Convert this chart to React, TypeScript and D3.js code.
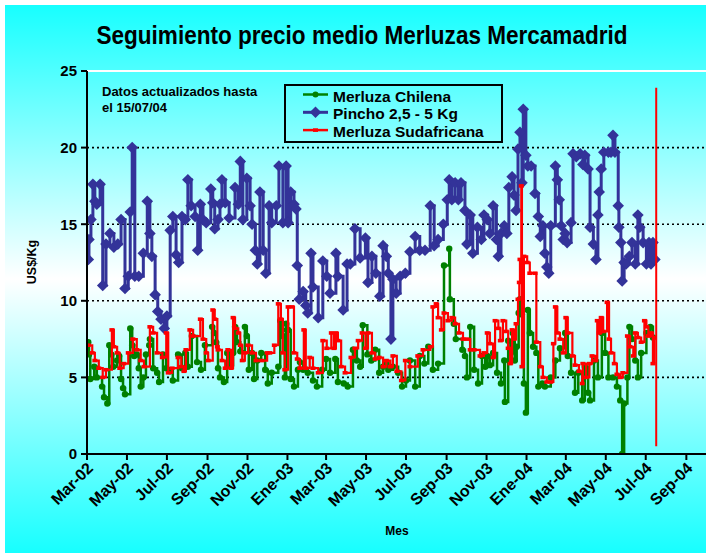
import React from "react";
import * as d3 from "d3";

const TITLE = "Seguimiento precio medio Merluzas Mercamadrid";
const NOTE = ["Datos actualizados hasta", "el 15/07/04"];
const Y_TITLE = "US$/Kg";
const X_TITLE = "Mes";
const START = new Date(2002, 2, 1);
const END = new Date(2004, 9, 1);
const xTickLabels = ["Mar-02", "May-02", "Jul-02", "Sep-02", "Nov-02", "Ene-03", "Mar-03", "May-03", "Jul-03", "Sep-03", "Nov-03", "Ene-04", "Mar-04", "May-04", "Jul-04", "Sep-04"];
const yTicks = [0, 5, 10, 15, 20, 25];
const seriesNames = ["Merluza Chilena", "Pincho 2,5 - 5 Kg", "Merluza Sudafricana"];

// [days since 1 Mar 2002, US$/Kg]
const chilena: [number, number][] = [[2,7.3],[3,6.5],[5,4.9],[11,5.7],[15,5.0],[23,4.4],[26,3.7],[31,3.3],[34,7.1],[37,6.5],[40,5.7],[46,6.1],[49,6.4],[52,4.9],[55,4.3],[58,3.9],[66,8.2],[69,7.1],[72,6.4],[76,6.5],[79,5.6],[82,4.4],[86,5.0],[90,6.5],[95,7.1],[96,7.5],[101,5.6],[107,5.3],[110,4.7],[116,6.5],[121,5.6],[127,5.4],[131,4.8],[139,6.5],[145,5.6],[150,6.6],[154,5.7],[160,7.7],[168,6.0],[174,5.5],[180,7.1],[191,8.3],[194,7.9],[197,7.3],[200,5.6],[203,5.0],[209,4.7],[214,6.6],[218,5.8],[223,6.6],[226,8.3],[229,7.3],[234,6.7],[241,8.3],[244,7.7],[247,5.5],[252,6.6],[255,4.9],[260,6.1],[266,6.6],[272,5.5],[276,4.6],[282,5.3],[292,5.7],[295,8.7],[298,8.1],[299,7.7],[302,5.0],[304,8.5],[307,8.1],[311,4.9],[316,4.4],[322,5.5],[325,6.0],[330,5.5],[337,5.3],[345,4.8],[351,4.4],[359,5.5],[365,6.2],[371,5.3],[379,6.2],[383,4.7],[392,4.6],[398,4.4],[406,6.8],[412,6.1],[417,5.7],[421,8.4],[428,6.5],[434,6.1],[440,6.8],[446,5.3],[452,5.7],[457,5.9],[460,5.5],[467,5.7],[475,5.3],[481,4.4],[487,4.8],[493,6.1],[501,4.4],[508,6.4],[515,5.9],[521,7.0],[528,5.5],[536,5.9],[545,12.3],[553,13.4],[554,10.1],[560,8.5],[563,7.5],[573,6.8],[577,6.4],[580,5.0],[585,8.3],[591,5.5],[597,4.6],[603,6.4],[608,5.7],[611,6.4],[615,5.8],[620,6.6],[626,5.3],[632,4.6],[637,6.1],[638,3.4],[643,7.4],[647,6.6],[650,7.9],[653,6.1],[656,7.0],[659,9.2],[661,10.1],[664,9.1],[667,4.6],[670,2.7],[673,9.4],[676,7.9],[681,7.0],[686,6.6],[689,4.4],[695,4.6],[699,4.4],[708,5.0],[715,6.1],[722,6.9],[730,7.9],[734,6.4],[739,5.3],[745,4.0],[750,5.3],[756,3.5],[760,5.7],[765,4.0],[768,3.5],[774,6.1],[780,5.0],[786,7.9],[791,6.6],[796,5.0],[803,5.0],[809,4.4],[814,3.5],[817,0.0],[820,3.3],[825,5.0],[828,8.3],[832,7.5],[837,6.1],[841,5.0],[846,6.6],[854,7.9],[860,8.3],[864,7.6]];

const pincho: [number, number][] = [[2,12.7],[3,14.0],[6,15.3],[9,17.6],[12,16.5],[15,16.3],[20,17.6],[24,11.0],[29,13.7],[35,14.4],[41,13.5],[47,13.7],[52,15.3],[58,10.8],[63,11.6],[66,15.8],[69,20.0],[73,11.6],[79,11.6],[86,13.1],[92,16.5],[96,14.4],[99,12.9],[104,10.4],[108,9.3],[113,8.8],[118,8.2],[122,9.0],[127,14.6],[131,15.5],[136,13.0],[140,12.5],[145,15.5],[150,15.3],[154,17.9],[159,16.2],[165,15.5],[169,13.3],[173,16.3],[177,15.3],[182,15.1],[189,17.3],[192,16.4],[195,14.7],[200,15.3],[203,16.3],[206,17.9],[211,16.4],[217,15.4],[226,17.4],[231,16.3],[234,19.1],[238,15.3],[244,18.0],[249,16.2],[252,15.0],[257,13.3],[260,12.4],[264,17.1],[269,13.3],[273,11.8],[278,16.2],[282,15.1],[289,16.2],[293,18.8],[299,15.1],[304,18.8],[307,15.1],[311,17.1],[316,16.3],[319,16.0],[321,12.3],[324,10.1],[330,10.6],[334,9.7],[337,9.2],[342,13.1],[345,10.9],[353,8.9],[360,12.6],[366,11.6],[371,10.5],[380,13.1],[383,11.6],[391,9.4],[397,12.4],[402,12.4],[409,14.7],[417,12.8],[425,14.1],[429,11.2],[435,12.9],[441,11.8],[447,10.3],[452,13.6],[457,12.9],[460,11.8],[464,7.5],[467,11.4],[472,10.5],[478,11.6],[486,11.8],[493,13.2],[501,14.2],[508,13.3],[516,13.3],[524,16.2],[530,13.6],[536,14.0],[544,15.0],[550,16.6],[553,17.9],[557,16.6],[562,17.7],[567,16.6],[571,17.7],[577,15.9],[580,13.7],[585,15.6],[589,13.1],[596,14.8],[602,14.0],[606,15.6],[611,15.3],[615,14.4],[620,16.2],[625,14.0],[628,12.9],[632,14.4],[637,14.9],[641,14.4],[644,17.4],[649,18.1],[652,16.9],[655,15.9],[658,19.9],[661,21.0],[664,17.7],[666,22.5],[670,19.5],[673,18.8],[678,18.8],[684,17.0],[689,15.5],[692,14.2],[696,14.9],[699,13.1],[702,12.2],[705,11.8],[708,14.9],[715,18.8],[718,17.9],[721,16.6],[724,14.9],[727,14.0],[730,14.4],[733,13.8],[739,15.1],[742,19.6],[747,19.4],[753,19.6],[757,18.9],[760,19.5],[765,18.6],[768,14.8],[773,13.7],[777,12.7],[780,15.6],[782,17.1],[785,18.6],[789,19.7],[796,19.7],[800,19.7],[803,20.8],[806,19.7],[811,16.2],[812,14.8],[815,13.8],[817,11.3],[820,12.5],[823,12.4],[828,12.9],[832,13.8],[837,12.4],[841,15.6],[844,14.8],[849,13.8],[854,12.4],[858,13.8],[861,12.4],[864,13.8],[867,12.7]];

const sudafricana: [number, number][] = [[2,7.1],[8,6.6],[12,6.1],[18,5.6],[24,5.0],[29,5.5],[38,8.1],[41,7.0],[46,6.6],[50,5.6],[56,5.9],[63,6.6],[70,7.5],[76,6.8],[82,6.1],[87,5.7],[96,8.3],[101,7.9],[107,6.6],[115,6.3],[121,7.9],[124,5.3],[130,5.6],[139,6.3],[144,5.7],[148,5.4],[151,6.8],[157,8.1],[162,7.7],[173,8.8],[177,7.5],[182,6.6],[185,6.1],[192,9.4],[195,8.8],[199,7.0],[200,6.8],[206,6.1],[211,5.6],[215,6.8],[220,5.6],[223,8.9],[226,8.2],[231,7.9],[234,7.1],[237,6.1],[241,6.6],[246,7.1],[252,6.6],[258,6.1],[267,6.1],[275,6.6],[279,6.6],[286,7.1],[292,9.8],[296,8.8],[299,6.6],[302,5.5],[307,9.6],[313,9.6],[316,6.6],[321,6.2],[325,5.6],[331,8.1],[334,5.6],[340,6.3],[345,5.6],[353,5.3],[360,7.4],[366,6.9],[373,7.9],[377,6.9],[380,7.9],[383,7.4],[388,5.7],[394,5.3],[403,6.3],[409,6.9],[414,7.4],[420,7.9],[425,6.9],[429,7.9],[435,6.6],[440,6.2],[446,6.3],[452,5.7],[457,6.1],[463,5.7],[467,6.4],[473,5.4],[480,4.8],[486,6.1],[493,5.7],[505,6.4],[513,6.8],[524,7.0],[528,9.6],[533,9.8],[536,8.9],[541,8.1],[545,9.2],[551,8.7],[557,8.9],[562,8.5],[568,7.9],[574,7.5],[580,7.5],[585,6.8],[591,6.8],[600,6.4],[606,6.6],[611,7.9],[615,7.2],[620,6.3],[623,8.7],[628,8.2],[631,7.4],[635,8.7],[640,8.0],[643,6.9],[646,5.9],[649,8.1],[652,7.5],[655,8.5],[658,10.1],[660,11.2],[661,12.7],[663,17.5],[664,5.7],[667,12.9],[672,12.5],[676,11.8],[684,11.8],[686,7.3],[692,5.7],[696,5.0],[702,4.7],[708,4.7],[712,7.2],[715,9.6],[718,7.9],[722,7.5],[727,6.6],[731,8.9],[734,7.9],[741,6.4],[745,5.8],[751,5.4],[756,4.6],[757,5.9],[762,5.0],[767,5.9],[771,6.4],[776,6.1],[779,8.7],[782,7.9],[785,8.9],[788,8.0],[794,9.9],[797,7.5],[800,6.6],[805,5.9],[809,5.2],[814,5.0],[818,5.3],[825,7.7],[829,7.0],[834,6.4],[837,7.9],[841,7.6],[846,7.3],[851,8.7],[854,8.3],[857,7.7],[861,7.9],[864,5.9],[866,7.6]];

// vertical red marker line: [day, low value, high value]
const cutoffLine: [number, number, number] = [869, 0.5, 23.9];

const W = 706;
const H = 553;
const FONT = "'Liberation Sans', Arial, Helvetica, sans-serif";
const GREEN = "#008000";
const BLUE = "#333399";
const RED = "#FF0000";

const diamond = (cx: number, cy: number, r: number) =>
  `M${cx},${cy - r}L${cx + r},${cy}L${cx},${cy + r}L${cx - r},${cy}Z`;

export default function App() {
  const plot = { left: 87, right: 706, top: 71, bottom: 454 };
  const x = d3.scaleTime().domain([START, END]).range([plot.left, plot.right]);
  const y = d3.scaleLinear().domain([0, 25]).range([plot.bottom, plot.top]);
  const dayDate = (d: number) => d3.timeDay.offset(START, d);
  const px = (p: [number, number]) => x(dayDate(p[0]));
  const py = (p: [number, number]) => y(p[1]);
  const line = d3
    .line<[number, number]>()
    .x(px)
    .y(py)
    .curve(d3.curveStepAfter);

  const tickDates = d3.timeMonth.every(2)!.range(START, END);

  return (
    <div style={{ position: "absolute", left: 0, top: 0, width: W, height: H }}>
      <svg width={W} height={H} style={{ display: "block", fontFamily: FONT }}>
        <defs>
          <linearGradient id="bg" x1="0" y1="0" x2="0" y2="1">
            <stop offset="0" stopColor="#17FFFF" />
            <stop offset="0.5" stopColor="#FFFFFF" />
            <stop offset="1" stopColor="#17FFFF" />
          </linearGradient>
          <clipPath id="plotclip">
            <rect x={plot.left} y={plot.top - 15} width={plot.right - plot.left} height={plot.bottom - plot.top + 15} />
          </clipPath>
        </defs>
        <rect x={5} y={5} width={W - 5} height={H - 5} fill="url(#bg)" />

        <text x={362} y={44} textAnchor="middle" fontSize={25} fontWeight="bold" textLength={531} lengthAdjust="spacingAndGlyphs">
          {TITLE}
        </text>

        {/* top border */}
        <line x1={plot.left} x2={plot.right} y1={plot.top} y2={plot.top} stroke="#FFFFFF" strokeWidth={2} />

        {/* grid */}
        {yTicks.filter((t) => t > 0 && t < 25).map((t) => (
          <line key={t} x1={plot.left} x2={plot.right} y1={y(t)} y2={y(t)} stroke="#000" strokeWidth={1.6} strokeDasharray="2 3" />
        ))}

        {/* series */}
        <g clipPath="url(#plotclip)">
          <path d={line(chilena) || ""} fill="none" stroke={GREEN} strokeWidth={2.5} />
          {chilena.map((p, i) => (
            <circle key={"c" + i} cx={px(p)} cy={py(p)} r={3.2} fill={GREEN} />
          ))}
          <path d={line(pincho) || ""} fill="none" stroke={BLUE} strokeWidth={3} />
          {pincho.map((p, i) => (
            <path key={"p" + i} d={diamond(px(p), py(p), 5.8)} fill={BLUE} />
          ))}
          <path d={line(sudafricana) || ""} fill="none" stroke={RED} strokeWidth={2.2} />
          {sudafricana.map((p, i) => (
            <rect key={"s" + i} x={px(p) - 2.5} y={py(p) - 1.8} width={5} height={3.6} fill={RED} />
          ))}
          <line
            x1={x(dayDate(cutoffLine[0]))}
            x2={x(dayDate(cutoffLine[0]))}
            y1={y(cutoffLine[1])}
            y2={y(cutoffLine[2])}
            stroke={RED}
            strokeWidth={2}
          />
        </g>

        {/* axes */}
        <line x1={plot.left} x2={plot.left} y1={plot.top} y2={plot.bottom} stroke="#000" strokeWidth={2} />
        <line x1={plot.left} x2={plot.right} y1={plot.bottom} y2={plot.bottom} stroke="#000" strokeWidth={2} />
        {yTicks.map((t) => (
          <g key={"yt" + t}>
            <line x1={plot.left - 6} x2={plot.left} y1={y(t)} y2={y(t)} stroke="#000" strokeWidth={2} />
            <text x={77} y={y(t)} dy="0.36em" textAnchor="end" fontSize={15} fontWeight="bold">
              {t}
            </text>
          </g>
        ))}
        {tickDates.map((d, i) => (
          <g key={"xt" + i}>
            <line x1={x(d)} x2={x(d)} y1={plot.bottom} y2={plot.bottom + 6} stroke="#000" strokeWidth={2} />
            <text
              transform={`translate(${x(d) - 1},${plot.bottom + 7}) rotate(-45)`}
              textAnchor="end"
              dy="0.72em"
              fontSize={16}
              fontWeight="bold"
            >
              {xTickLabels[i]}
            </text>
          </g>
        ))}

        <text transform="translate(36,262) rotate(-90)" textAnchor="middle" fontSize={12.5} fontWeight="bold">
          {Y_TITLE}
        </text>
        <text x={397} y={535} textAnchor="middle" fontSize={12} fontWeight="bold">
          {X_TITLE}
        </text>

        {/* note */}
        {NOTE.map((s, i) => (
          <text key={"n" + i} x={102} y={96 + i * 15.5} fontSize={13} fontWeight="bold">
            {s}
          </text>
        ))}

        {/* legend */}
        <rect x={285} y={85} width={217} height={57} fill="none" stroke="#000" strokeWidth={2} />
        {seriesNames.map((name, i) => {
          const ly = 94.5 + i * 17.8;
          const color = [GREEN, BLUE, RED][i];
          return (
            <g key={"lg" + i}>
              <line x1={303} x2={328} y1={ly} y2={ly} stroke={color} strokeWidth={i === 1 ? 3 : 2.5} />
              {i === 0 && <circle cx={315.5} cy={ly} r={3} fill={color} />}
              {i === 1 && <path d={diamond(315.5, ly, 5.8)} fill={color} />}
              {i === 2 && <rect x={313} y={ly - 1.8} width={5} height={3.6} fill={color} />}
              <text x={333} y={ly + 7} fontSize={15.5} fontWeight="bold">
                {name}
              </text>
            </g>
          );
        })}
      </svg>
    </div>
  );
}
